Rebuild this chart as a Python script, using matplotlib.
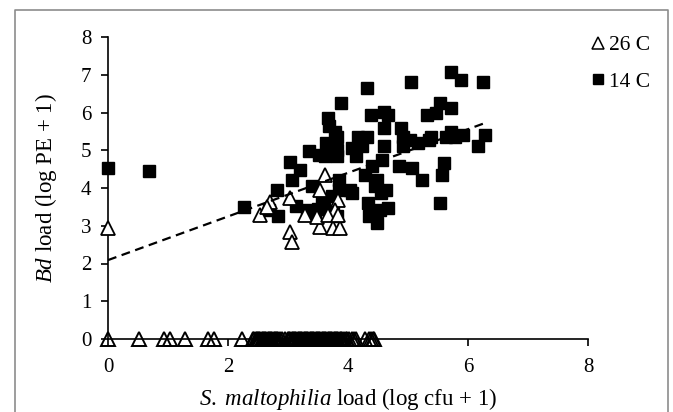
import numpy as np
import matplotlib.pyplot as plt
from matplotlib.lines import Line2D

# 14 C (filled squares)
x14 = [0.0, 0.69, 2.27, 2.69, 2.81, 2.83, 3.04, 3.06, 3.13, 3.2, 3.31, 3.35, 3.4, 3.45,
       3.52, 3.56, 3.62, 3.63, 3.67, 3.69, 3.74, 3.78, 3.81, 3.81, 3.81, 3.85, 3.81, 3.88,
       3.85, 4.03, 4.06, 4.06, 4.13, 4.17, 4.24, 4.31, 4.31, 4.28, 4.33, 4.35, 4.38, 4.4,
       4.45, 4.49, 4.49, 4.53, 4.55, 4.56, 4.6, 4.6, 4.67, 4.6, 4.63, 4.67, 4.85, 4.89,
       4.92, 4.92, 5.03, 5.05, 5.06, 5.17, 5.24, 5.31, 5.35, 5.39, 5.46, 5.53, 5.53, 5.57,
       5.6, 5.64, 5.71, 5.71, 5.71, 5.78, 5.89, 5.92, 6.17, 6.25, 6.28, 3.5, 3.6, 3.75]
y14 = [4.53, 4.44, 3.5, 3.43, 3.96, 3.27, 4.68, 4.22, 3.52, 4.48, 3.43, 4.97, 4.04, 3.34,
       4.88, 3.6, 4.84, 5.19, 5.85, 5.63, 3.78, 5.49, 5.36, 5.01, 4.84, 4.22, 3.25, 6.24,
       3.96, 3.96, 3.87, 5.05, 4.84, 5.36, 5.1, 5.36, 6.64, 4.35, 3.6, 3.27, 5.93, 4.57,
       4.04, 4.22, 3.08, 3.43, 3.87, 4.75, 5.1, 6.02, 5.93, 5.58, 3.96, 3.47, 4.57, 5.58,
       5.36, 5.1, 5.27, 6.81, 4.53, 5.19, 4.22, 5.93, 5.27, 5.36, 5.98, 6.24, 3.6, 4.35,
       4.66, 5.36, 7.08, 6.11, 5.49, 5.36, 6.86, 5.41, 5.1, 6.81, 5.41, 3.45, 3.55, 3.35]

# 26 C (open triangles), detected loads
x26 = [0.0, 2.53, 2.7, 2.65, 3.03, 3.03, 3.07, 3.28, 3.62, 3.53, 3.83, 3.53, 3.75, 3.87,
       3.48, 3.78, 3.67, 3.83]
y26 = [2.95, 3.28, 3.63, 3.5, 3.73, 2.83, 2.57, 3.28, 4.34, 3.95, 3.68, 2.97, 2.94, 2.94,
       3.23, 3.42, 3.28, 3.28]
# 26 C with zero Bd load
x26_zero = [0.0, 0.52, 0.93, 1.04, 1.28, 1.66, 1.77, 2.24,
            2.42, 2.44, 2.46, 2.48, 2.5, 2.52, 2.54, 2.56, 2.58, 2.6, 2.62, 2.64,
            2.66, 2.68, 2.7, 2.72, 2.74, 2.76, 2.78, 2.8, 2.82, 2.84, 2.86, 2.9,
            2.95, 3.0, 3.02, 3.04, 3.06, 3.08, 3.1, 3.12, 3.14, 3.16, 3.18, 3.2,
            3.22, 3.24, 3.26, 3.28, 3.3, 3.32, 3.34, 3.36, 3.38, 3.4, 3.42, 3.44,
            3.46, 3.48, 3.5, 3.52, 3.54, 3.56, 3.58, 3.6, 3.62, 3.64, 3.66, 3.68,
            3.7, 3.72, 3.74, 3.76, 3.78, 3.8, 3.82, 3.84, 3.86, 3.88, 3.9, 3.93,
            3.96, 3.99, 4.02, 4.06, 4.1, 4.14, 4.28, 4.35, 4.38, 4.41, 4.43]

# dashed trend line
trend_intercept = 2.09
trend_slope = 0.578
trend_x = [0.0, 6.3]

plt.rcParams['font.family'] = 'Liberation Serif'
plt.rcParams['mathtext.fontset'] = 'custom'
plt.rcParams['mathtext.rm'] = 'Liberation Serif'
plt.rcParams['mathtext.it'] = 'Liberation Serif:italic'

fig = plt.figure(figsize=(6.73, 4.12), dpi=100)
ax = fig.add_axes([108 / 673, 73 / 412, 480 / 673, 302 / 412])

# chart area border
fig.add_artist(Line2D([15 / 673, 15 / 673, 668 / 673, 668 / 673],
                      [-0.05, 1 - 10 / 412, 1 - 10 / 412, -0.05],
                      transform=fig.transFigure, color='#8c8c8c', lw=1.2))

ax.plot(x14, y14, 's', ms=8, color='black', zorder=3, clip_on=False)
ax.plot(x26, y26, '^', ms=9.5, mfc='white', mec='black', mew=1.3, zorder=4, clip_on=False)
ax.plot(x26_zero, np.zeros(len(x26_zero)), '^', ms=9.5, mfc='none', mec='black',
        mew=1.4, zorder=4, clip_on=False)

tx = np.array(trend_x)
ax.plot(tx, trend_intercept + trend_slope * tx, color='black', lw=1.6,
        dashes=(4, 2.5), zorder=5)

ax.set_xlim(0, 8)
ax.set_ylim(0, 8)
ax.set_xticks([0, 2, 4, 6, 8])
ax.set_yticks(range(9))
for s in ['top', 'right']:
    ax.spines[s].set_visible(False)
for s in ['left', 'bottom']:
    ax.spines[s].set_linewidth(1.2)
ax.tick_params(labelsize=15, width=1.2, length=5, direction='out')
ax.tick_params(axis='y', pad=7)
ax.tick_params(axis='x', pad=9)

ax.set_xlabel(r'$\mathit{S.\ maltophilia}$ load (log cfu + 1)', fontsize=16.5, labelpad=6)
ax.set_ylabel(r'$\mathit{Bd}$ load (log PE + 1)', fontsize=16.5, labelpad=16)

h1 = Line2D([], [], ls='', marker='^', ms=8.5, mfc='white', mec='black', mew=1.1)
h2 = Line2D([], [], ls='', marker='s', ms=7, color='black')
fig.legend([h1, h2], ['26 C', '14 C'], loc='upper right',
           bbox_to_anchor=(670 / 673, 1 - 16 / 412), frameon=False, fontsize=15.5,
           handlelength=0.6, handletextpad=0.25, labelspacing=0.75)

fig.savefig('out.png', dpi=100)
